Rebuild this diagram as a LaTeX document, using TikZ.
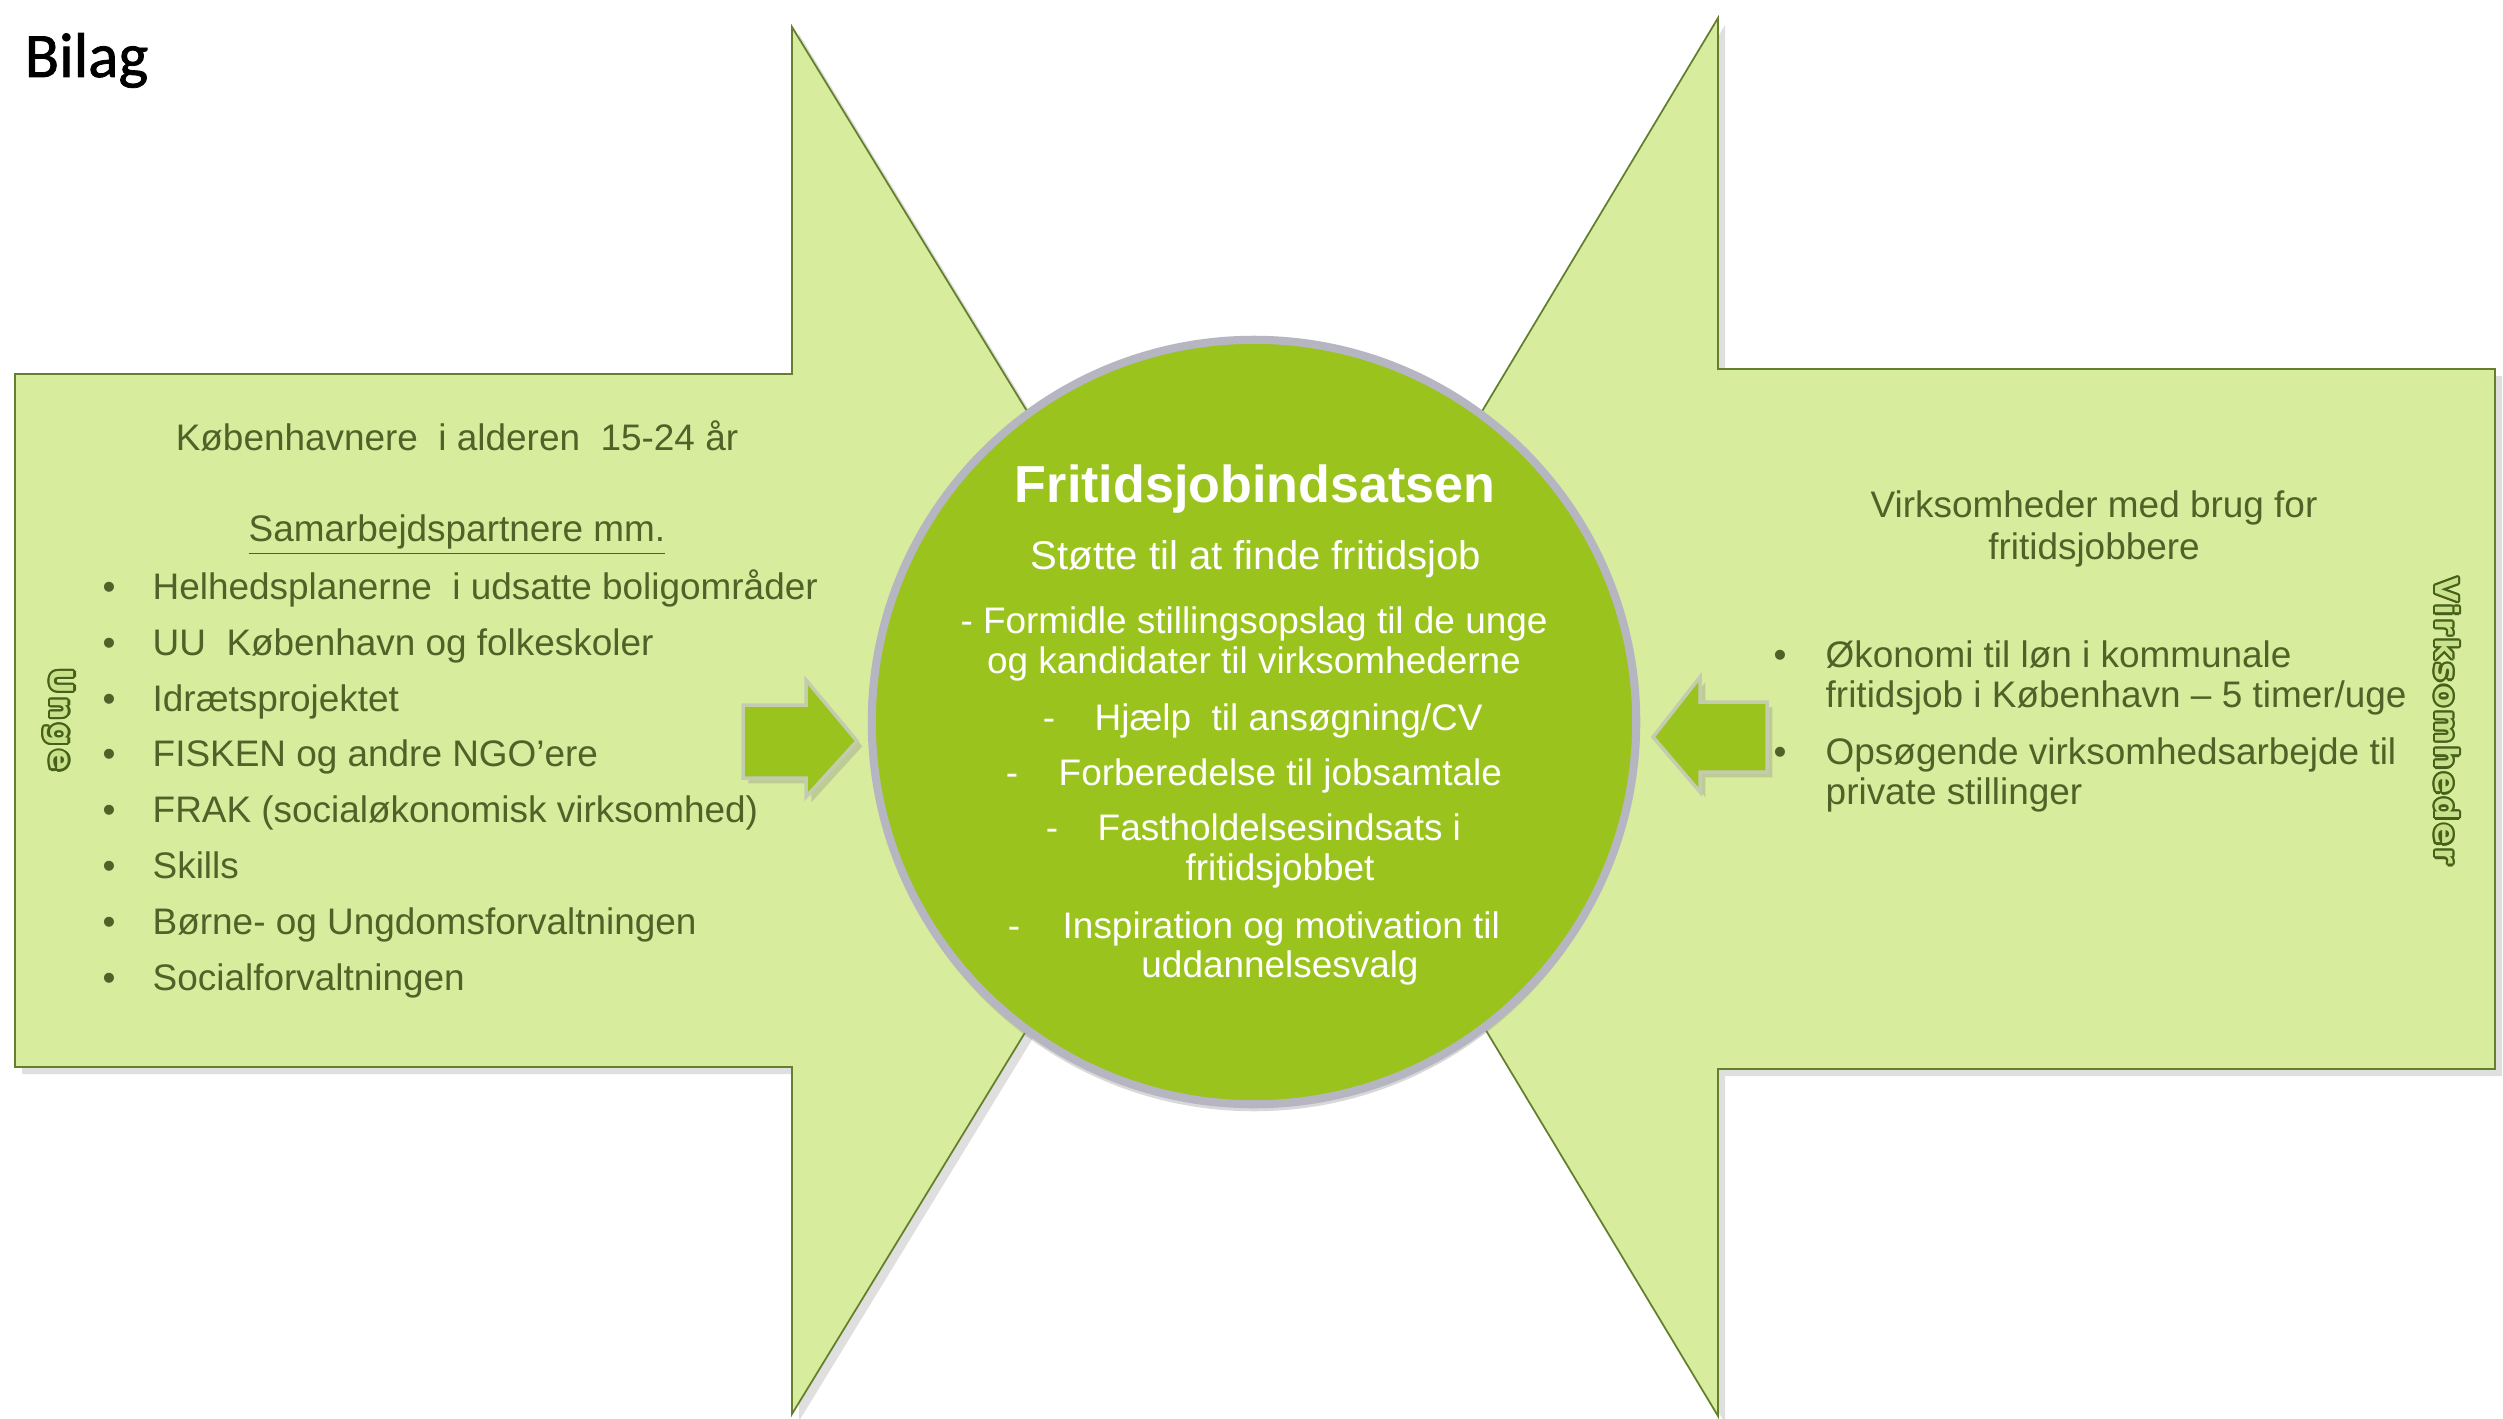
\documentclass[tikz,border=0pt]{standalone}
\usepackage{fontspec}
\setmainfont{Liberation Sans}
\newfontfamily\bilagfont[FakeBold=1.2]{Carlito}
\newfontfamily\labelfont[LetterSpace=11]{DejaVu Sans Bold}
\usetikzlibrary{shadows,calc}
\definecolor{lightg}{RGB}{216,236,158}
\definecolor{labelfill}{RGB}{200,226,140}
\definecolor{edgeg}{RGB}{100,128,45}
\definecolor{midg}{RGB}{155,195,30}
\definecolor{ringg}{RGB}{182,182,194}
\definecolor{txtg}{RGB}{79,98,40}
\definecolor{outg}{RGB}{70,95,25}
\definecolor{arrowedge}{RGB}{196,204,176}
\tikzset{
  panel/.style={fill=lightg, draw=edgeg, line width=0.5pt,
    drop shadow={shadow xshift=2pt, shadow yshift=-2pt, opacity=0.25}},
  smallarrow/.style={fill=midg, draw=arrowedge, line width=1pt,
    drop shadow={shadow xshift=1.5pt, shadow yshift=-1.5pt, opacity=0.3}},
  body/.style={font=\fontsize{10.5}{12}\selectfont, text=txtg, inner sep=0pt},
  inner/.style={font=\fontsize{10.5}{12}\selectfont, text=white, inner sep=0pt},
  sidelabel/.style={font=\labelfont\fontsize{9}{11}\selectfont, inner sep=0pt, rotate=-90}
}
\begin{document}
\begin{tikzpicture}[x=0.01cm,y=-0.01cm]
\useasboundingbox (0,0) rectangle (2503,1418);
\fill[white] (0,0) rectangle (2503,1418);

% Title
\node[anchor=base west, inner sep=0pt, font=\bilagfont\fontsize{18}{21}\selectfont] (bilag) at (24,77) {Bilag};

% Left and right big arrow panels
\path[panel] (15,374) -- (792,374) -- (792,27) -- (1216,720) -- (792,1414) -- (792,1067) -- (15,1067) -- cycle;
\path[panel] (2495,369) -- (1718,369) -- (1718,18) -- (1298,718) -- (1718,1416) -- (1718,1069) -- (2495,1069) -- cycle;

% Central circle
\node[circle, minimum size=7.64cm, fill=midg, draw=ringg, line width=2.3pt,
  drop shadow={shadow xshift=0pt, shadow yshift=-2pt, opacity=0.3}] (hub) at (1254,722) {};

% Small arrows
\path[smallarrow] (743,705) -- (806,705) -- (806,680) -- (857,741) -- (806,797) -- (806,778) -- (743,778) -- cycle;
\path[smallarrow] (1767,702) -- (1700,702) -- (1700,677) -- (1653,737) -- (1700,792) -- (1700,772) -- (1767,772) -- cycle;

% Left panel text
\node[body, anchor=base] (kbh) at (457,450) {Københavnere \ i alderen \ 15-24 år};
\node[body, anchor=base] (samarb) at (457,541) {\underline{Samarbejdspartnere mm.}};
\foreach \yy/\tx [count=\i] in {
  599/Helhedsplanerne \ i udsatte boligområder,
  655/UU \ København og folkeskoler,
  711/Idrætsprojektet,
  766/FISKEN og andre NGO’ere,
  822/FRAK (socialøkonomisk virksomhed),
  878/Skills,
  934/Børne- og Ungdomsforvaltningen,
  990/Socialforvaltningen}{
  \node[body, anchor=base] (lb\i) at (109,\yy) {•};
  \node[body, anchor=base west] (li\i) at (152,\yy) {\tx};
}

% Outlined vertical labels
\foreach \a [count=\k] in {0,30,...,330}{
  \node[sidelabel, text=outg] (ungeo\k) at ($(59,720)+(\a:2.2)$) {Unge};
  \node[sidelabel, text=outg] (virko\k) at ($(2447,721)+(\a:2.2)$) {Virksomheder};
}
\node[sidelabel, text=labelfill] (unge) at (59,720) {Unge};
\node[sidelabel, text=labelfill] (virk) at (2447,721) {Virksomheder};

% Right panel text
\node[body, anchor=base] (virk1) at (2094,517) {Virksomheder med brug for};
\node[body, anchor=base] (virk2) at (2094,559) {fritidsjobbere};
\node[body, anchor=base] (rb1) at (1780,667) {•};
\node[body, anchor=base west] (ri1a) at (1825,667) {Økonomi til løn i kommunale};
\node[body, anchor=base west] (ri1b) at (1825,707) {fritidsjob i København – 5 timer/uge};
\node[body, anchor=base] (rb2) at (1780,764) {•};
\node[body, anchor=base west] (ri2a) at (1825,764) {Opsøgende virksomhedsarbejde til};
\node[body, anchor=base west] (ri2b) at (1825,804) {private stillinger};

% Circle text
\node[inner sep=0pt, text=white, anchor=base, font=\bfseries\fontsize{14.8}{17}\selectfont] (ctitle) at (1255,502) {Fritidsjobindsatsen};
\node[inner sep=0pt, text=white, anchor=base, font=\fontsize{11.4}{13}\selectfont] (csub) at (1256,569) {Støtte til at finde fritidsjob};
\node[inner, anchor=base] (c1a) at (1254,633) {- Formidle stillingsopslag til de unge};
\node[inner, anchor=base] (c1b) at (1254,673) {og kandidater til virksomhederne};
\node[inner, anchor=base] (d2) at (1049,730) {-};
\node[inner, anchor=base west] (c2) at (1094,730) {Hjælp \ til ansøgning/CV};
\node[inner, anchor=base] (d3) at (1012,785) {-};
\node[inner, anchor=base west] (c3) at (1058,785) {Forberedelse til jobsamtale};
\node[inner, anchor=base] (d4) at (1052,840) {-};
\node[inner, anchor=base west] (c4a) at (1097,840) {Fastholdelsesindsats i};
\node[inner, anchor=base] (c4b) at (1280,880) {fritidsjobbet};
\node[inner, anchor=base] (d5) at (1014,938) {-};
\node[inner, anchor=base west] (c5a) at (1062,938) {Inspiration og motivation til};
\node[inner, anchor=base] (c5b) at (1280,977) {uddannelsesvalg};
\end{tikzpicture}
\end{document}
